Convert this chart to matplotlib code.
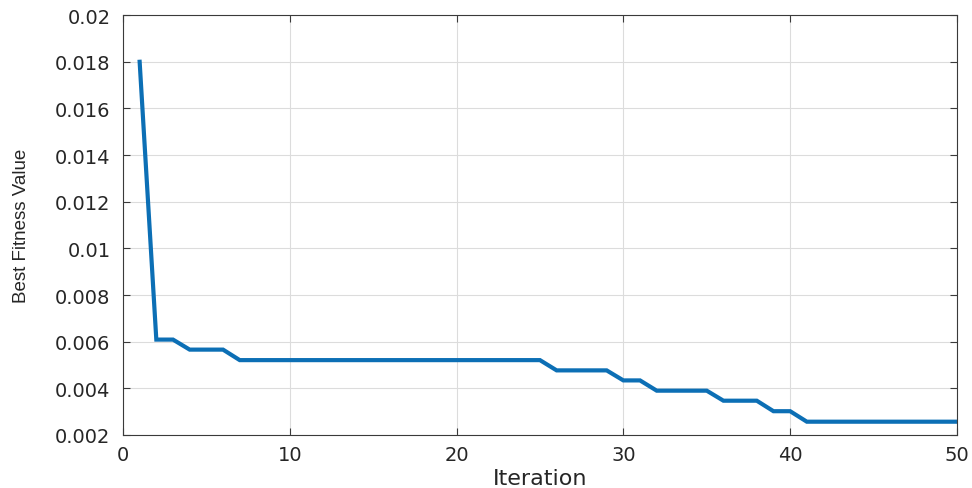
import matplotlib
matplotlib.use("Agg")
import matplotlib.pyplot as plt
import numpy as np

# best fitness per iteration
iterations = np.arange(1, 51)
fitness = ([0.0180] + [0.00609] * 2 + [0.00566] * 3 + [0.00521] * 19 +
           [0.00477] * 4 + [0.00434] * 2 + [0.00390] * 4 + [0.00347] * 3 +
           [0.00302] * 2 + [0.00257] * 10)

xticks = [0, 10, 20, 30, 40, 50]
yticks = [0.002, 0.004, 0.006, 0.008, 0.01, 0.012, 0.014, 0.016, 0.018, 0.02]
ytick_labels = ["0.002", "0.004", "0.006", "0.008", "0.01", "0.012",
                "0.014", "0.016", "0.018", "0.02"]

fig = plt.figure(figsize=(9.72, 4.89), dpi=100)
ax = fig.add_axes([0.1265, 0.1084, 0.858, 0.8586])

ax.plot(iterations, fitness, color="#0C6FB5", linewidth=3.0, solid_joinstyle="miter")

ax.set_xlim(0, 50)
ax.set_ylim(0.002, 0.02)
ax.set_xticks(xticks)
ax.set_yticks(yticks)
ax.set_yticklabels(ytick_labels)

ax.grid(True, color="#dcdcdc", linewidth=0.8)
ax.set_axisbelow(True)
for s in ax.spines.values():
    s.set_color("#3a3a3a")
    s.set_linewidth(0.8)

ax.tick_params(direction="in", length=5, width=0.8, color="#3a3a3a",
               top=True, right=True, labelcolor="#262626")
ax.tick_params(axis="y", pad=9)
ax.tick_params(axis="x", pad=7)
for lab in ax.get_xticklabels() + ax.get_yticklabels():
    lab.set_fontfamily("DejaVu Sans")
    lab.set_fontsize(14)

ax.set_xlabel("Iteration", fontsize=16, family="DejaVu Sans", color="#262626", labelpad=3)
ax.set_ylabel("Best Fitness Value", fontsize=13.5, family="Liberation Sans", color="#262626")
ax.yaxis.set_label_coords(-0.111, 0.5)

fig.savefig("out.png", dpi=100)
